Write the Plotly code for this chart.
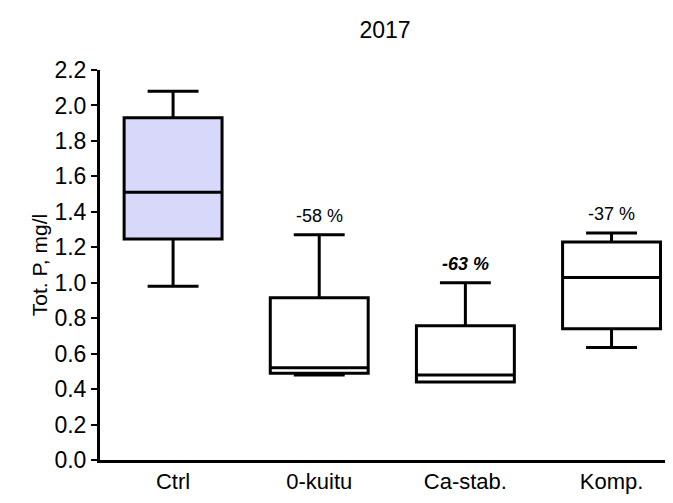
import plotly.graph_objects as go

categories = ["Ctrl", "0-kuitu", "Ca-stab.", "Komp."]
lowerfence = [0.98, 0.48, 0.44, 0.635]
q1 = [1.246, 0.49, 0.44, 0.74]
median = [1.51, 0.52, 0.48, 1.03]
q3 = [1.93, 0.915, 0.757, 1.23]
upperfence = [2.08, 1.27, 1.00, 1.28]
labels = ["", "-58 %", "<b><i>-63 %</i></b>", "-37 %"]
fills = ["#d8d8fa", "#ffffff", "#ffffff", "#ffffff"]

fig = go.Figure()
for i, c in enumerate(categories):
    fig.add_trace(go.Box(
        x=[c], q1=[q1[i]], median=[median[i]], q3=[q3[i]],
        lowerfence=[lowerfence[i]], upperfence=[upperfence[i]],
        width=0.67, whiskerwidth=0.52,
        line=dict(color="black", width=3), fillcolor=fills[i],
        showlegend=False, hoverinfo="skip",
    ))

for i, c in enumerate(categories):
    if labels[i]:
        fig.add_annotation(x=c, y=upperfence[i], xref="x", yref="y",
                           text=labels[i], showarrow=False, yanchor="bottom",
                           yshift=7, font=dict(size=18, color="black"))

fig.update_layout(
    width=665, height=495,
    margin=dict(l=92, r=3, t=62, b=43),
    paper_bgcolor="white", plot_bgcolor="white",
    boxmode="overlay",
    font=dict(family="Liberation Sans, Arial, sans-serif", color="black"),
    title=dict(text="2017", x=0.5, xanchor="center", xref="paper",
               y=(495 - 22) / 495, yanchor="middle",
               font=dict(size=23, color="black")),
)
fig.update_xaxes(type="category", categoryorder="array", categoryarray=categories,
                 range=[-0.5, 3.4], showline=True, linecolor="black", linewidth=3,
                 ticks="", showgrid=False, zeroline=False,
                 tickfont=dict(size=22, color="black"))
fig.update_yaxes(range=[0, 2.2], tickmode="array",
                 tickvals=[0, 0.2, 0.4, 0.6, 0.8, 1.0, 1.2, 1.4, 1.6, 1.8, 2.0, 2.2],
                 ticktext=["0.0", "0.2", "0.4", "0.6", "0.8", "1.0", "1.2", "1.4", "1.6", "1.8", "2.0", "2.2"],
                 showline=True, linecolor="black", linewidth=3,
                 ticks="outside", ticklen=6, tickwidth=2, tickcolor="black",
                 showgrid=False, zeroline=False,
                 tickfont=dict(size=23, color="black"),
                 title=dict(text="Tot. P, mg/l", font=dict(size=21, color="black"), standoff=2))

fig.write_html("out.html")
